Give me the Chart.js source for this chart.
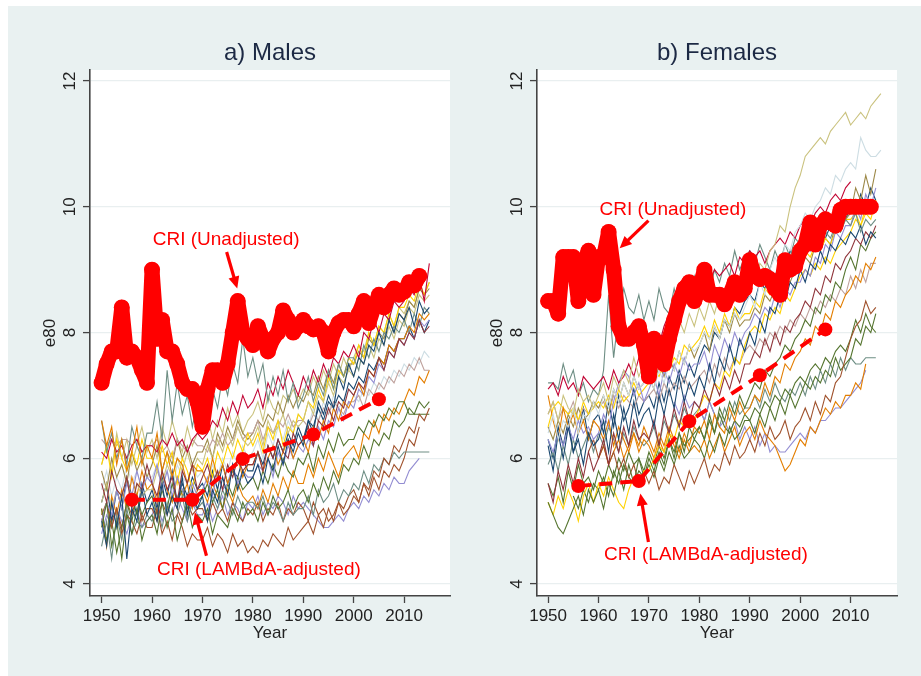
<!DOCTYPE html>
<html>
<head>
<meta charset="utf-8">
<title>e80 - Males / Females</title>
<script src="https://cdn.jsdelivr.net/npm/chart.js@4.4.1/dist/chart.umd.min.js"></script>
<style>
  html, body { margin: 0; padding: 0; background: #ffffff; }
  #page { position: absolute; left: 8px; top: 6px; width: 913px; height: 670px; background: #e9f1f1; }
  #males { position: absolute; left: 8px; top: 6px; }
  #females { position: absolute; left: 460px; top: 6px; }
</style>
</head>
<body>
<div id="page"></div>
<canvas id="males" width="452" height="670"></canvas>
<canvas id="females" width="461" height="670"></canvas>
<script>
// Axis ticks
const xTicks = [1950, 1960, 1970, 1980, 1990, 2000, 2010];
const yTicks = [4, 6, 8, 10, 12];

// CRI (Unadjusted), one value per year from 1950
const maleCri = [
  7.2,7.5,7.7,7.7,8.4,7.6,7.7,7.6,7.4,7.2,
  9.0,7.9,8.2,7.7,7.7,7.5,7.2,7.1,7.1,6.9,
  6.5,7.1,7.4,7.4,7.2,7.5,8.0,8.5,8.0,7.9,
  7.8,8.1,7.9,7.7,7.9,8.0,8.35,8.2,8.0,8.1,
  8.2,8.1,8.05,8.1,8.0,7.7,8.0,8.15,8.2,8.2,
  8.1,8.3,8.5,8.15,8.4,8.6,8.4,8.6,8.7,8.6,
  8.65,8.8,8.75,8.9
];
const femaleCri = [
  8.5,8.5,8.3,9.2,9.2,9.2,8.5,9.1,9.3,8.6,
  9.2,9.2,9.6,9.0,8.1,7.9,7.9,8.0,8.1,7.8,
  7.3,7.9,7.7,7.5,7.9,8.2,8.5,8.7,8.8,8.5,
  8.7,9.0,8.6,8.6,8.6,8.45,8.6,8.8,8.6,8.7,
  9.15,8.9,8.85,8.9,8.85,8.7,8.6,9.15,9.0,9.05,
  9.3,9.4,9.75,9.4,9.7,9.8,9.75,9.7,9.95,10.0,
  10.0,10.0,10.0,10.0,10.0
];

// CRI (LAMBdA-adjusted)
const adjYears = [1956, 1968, 1978, 1992, 2005];
const maleAdj = [5.34, 5.34, 5.99, 6.38, 6.94];
const femaleAdj = [5.56, 5.64, 6.59, 7.32, 8.05];

// ---------------------
// COUNTRY LINES, MALES (from 1950)
// ---------------------
const m01 = [5.0,4.6,5.3,4.9,5.4,4.4,5.2,5.0,5.5,5.1, 5.3,5.0,5.6,5.1,5.4,5.2,5.7,5.1,5.5,5.2, 5.4,5.0,5.5,5.3,5.7,5.4,5.9,5.5,5.8,5.6, 5.7,5.9,5.6,6.0,5.8,6.2,5.9,6.3,6.1,6.4, 6.2,6.6,6.4,6.9,6.7,7.0,6.8,7.3,7.1,7.5, 7.3,7.6,7.5,7.8,7.7,8.0,7.8,8.2,8.0,8.3, 8.2,8.4,8.1,8.5,8.3,8.4];
const m02 = [5.6,5.3,5.8,5.5,5.4,5.7,5.2,5.6,5.5,5.9, 5.6,5.4,5.8,5.5,5.7,5.3,5.8,5.6,5.9,5.5, 5.7,5.9,5.6,5.8,5.5,5.9,5.7,6.0,5.8,5.9, 5.9,6.1,5.8,6.2,6.0,6.3,6.1,6.0,6.4,6.2, 6.3,6.5,6.2,6.6,6.5,6.8,6.6,6.9,6.8,7.1, 7.0,7.2,7.1,7.4,7.3,7.6,7.4,7.7,7.6,7.9, 7.8,8.0,7.9,8.2,8.0,8.1];
const m03 = [4.9,5.3,4.6,5.0,4.4,5.1,4.8,5.2,4.7,5.0, 5.1,4.8,5.3,4.9,5.2,4.7,5.0,5.3,4.9,5.1, 5.0,5.2,4.8,5.1,5.0,4.9,5.2,5.0,5.3,5.1, 5.2,5.0,5.3,5.1,5.4,5.2,5.3,5.5,5.2,5.4, 5.5,5.3,5.6,5.4,5.7,5.5,5.8,5.6,5.9,5.8, 6.0,5.9,6.2,6.0,6.3,6.2,6.4,6.3,6.6,6.5, 6.6,6.8,6.7,6.9,6.8,6.9];
const m04 = [6.6,6.2,6.5,5.9,6.3,5.8,6.1,6.5,5.9,6.2, 6.0,6.4,5.8,6.1,5.7,6.0,5.9,5.6,5.9,5.8, 5.8,5.6,6.0,5.7,5.9,5.6,5.8,6.0,5.7,5.9, 5.9,6.1,5.8,6.0,6.2,5.9,6.1,6.3,6.0,6.2, 6.3,6.1,6.5,6.3,6.6,6.4,6.8,6.6,6.9,6.8, 7.0,7.2,7.0,7.4,7.3,7.6,7.5,7.8,7.7,7.9, 7.9,8.1,8.0,8.3,8.2,8.3];
const m05 = [6.6,6.1,6.4,6.0,6.3,5.9,6.5,6.2,6.0,6.4, 6.4,6.9,6.3,7.4,6.6,7.2,6.7,7.0,6.5,6.9, 7.0,6.6,7.1,6.8,7.3,7.0,7.5,7.2,7.9,7.3, 7.6,7.2,7.5,6.9,7.3,7.0,7.4,6.9,7.2,6.8, 7.0,7.3,6.9,7.2,7.0,7.4,7.1,7.5,7.3,7.6, 7.6,7.4,7.8,7.6,7.9,7.7,8.0,7.9,8.1,8.0, 8.2,8.0,8.3,8.1,8.4,8.3];
const m06 = [6.1,6.0,6.3,6.1,6.2,6.0,6.2,6.3,6.1,6.2, 6.2,6.1,6.3,6.2,6.4,6.2,6.3,6.1,6.3,6.4, 6.3,6.4,6.6,6.5,6.8,6.6,6.9,6.7,7.0,6.8, 6.9,7.1,6.8,7.2,7.0,7.3,7.1,7.4,7.2,7.0, 7.3,7.1,7.4,7.2,7.5,7.3,7.6,7.5,7.7,7.6, 7.8,7.6,8.0,7.9,8.2,8.0,8.3,8.2,8.5,8.4, 8.5,8.7,8.6,8.9,8.5,9.1];
const m07 = [5.0,5.3,5.1,5.5,5.2,5.6,5.4,5.8,5.5,5.7, 5.6,5.9,5.5,5.8,5.4,5.7,5.5,5.3,5.6,5.4, 5.5,5.7,5.4,5.8,5.5,5.6,5.9,5.6,5.8,5.7, 5.7,5.9,5.8,6.0,5.7,6.1,5.9,6.2,6.0,6.2, 6.1,6.3,6.2,6.5,6.3,6.6,6.5,6.8,6.6,6.9, 6.8,7.1,7.0,7.3,7.2,7.5,7.4,7.7,7.6,7.9, 7.8,8.0,7.9,8.2,8.1,8.2];
const m08 = [5.3,5.6,5.2,5.5,5.4,5.7,5.3,5.6,5.4,5.5, 5.5,5.8,5.6,5.9,5.7,6.0,5.8,6.1,5.8,6.0, 5.9,6.2,6.0,6.3,6.1,6.4,6.2,6.5,6.3,6.2, 6.3,6.5,6.2,6.6,6.4,6.5,6.7,6.4,6.6,6.5, 6.6,6.9,6.7,7.0,6.9,7.2,7.0,7.3,7.2,7.4, 7.3,7.6,7.5,7.8,7.6,7.9,7.8,8.1,7.9,8.2, 8.1,8.4,8.3,8.6,8.5,8.6];
const m09 = [5.0,5.3,4.9,5.2,4.8,5.1,5.0,4.8,5.1,4.9, 4.9,5.2,4.8,5.0,4.7,5.1,4.9,4.6,4.8,4.7, 4.7,4.9,4.6,4.8,4.7,4.5,4.8,4.6,4.7,4.5, 4.6,4.5,4.7,4.6,4.8,4.7,4.6,4.9,4.7,4.8, 4.9,5.0,4.8,5.1,4.9,5.2,5.0,5.3,5.1,5.2, 5.4,5.3,5.6,5.5,5.8,5.7,6.0,5.9,6.2,6.1, 6.3,6.5,6.4,6.7,6.6,6.8];
const m10 = [5.9,6.2,5.7,6.3,6.0,5.8,6.1,5.9,6.3,6.0, 6.0,5.8,6.2,5.9,6.1,5.6,6.0,5.8,5.5,5.9, 5.8,6.0,5.7,6.1,5.9,6.2,6.0,6.3,6.1,6.4, 6.2,6.4,6.1,6.5,6.3,6.6,6.2,6.5,6.4,6.7, 6.6,6.9,6.8,7.1,6.9,7.3,7.1,7.4,7.3,7.6, 7.5,7.8,7.6,8.0,7.8,8.1,8.0,8.3,8.1,8.4, 8.4,8.6,8.5,8.8,8.6,8.8];
const m11 = [6.3,6.2,6.3,6.2,6.3,6.3,6.2,6.3,6.1,6.2, 6.2,6.3,6.1,6.2,6.0,6.3,6.2,6.1,6.3,6.2, 6.2,6.1,6.3,6.2,6.4,6.2,6.3,6.5,6.3,6.4, 6.4,6.6,6.3,6.5,6.4,6.6,6.5,6.7,6.5,6.6, 6.6,6.5,6.7,6.6,6.8,6.7,6.9,6.8,6.7,6.9, 6.9,7.0,6.8,7.1,7.0,7.2,7.1,7.3,7.2,7.4, 7.3,7.5,7.4,7.6,7.4,7.4];
const m12 = [5.8,5.5,6.0,5.7,5.9,5.6,6.1,5.8,6.0,5.7, 5.9,6.2,5.8,6.1,5.9,6.3,6.0,6.2,5.9,6.1, 6.1,6.3,6.0,6.4,6.2,6.5,6.3,6.6,6.4,6.3, 6.4,6.6,6.5,6.7,6.6,6.9,6.7,7.0,6.8,7.0, 6.9,7.1,7.0,7.3,7.1,7.4,7.2,7.5,7.3,7.5, 7.5,7.7,7.6,7.9,7.8,8.0,7.9,8.2,8.0,8.3, 8.2,8.5,8.4,8.7,8.6,8.7];
const m13 = [4.6,5.0,4.4,5.1,4.7,5.2,4.8,5.0,4.9,5.1, 5.0,5.2,4.9,5.3,5.0,5.1,5.4,5.0,5.3,5.2, 5.3,5.1,5.4,5.2,5.5,5.3,5.1,5.4,5.2,5.3, 5.3,5.2,5.4,5.1,5.3,5.2,5.0,5.3,5.1,5.2, 5.2,5.4,5.1,5.5,5.3,5.4,5.6,5.3,5.5,5.4, 5.6,5.5,5.8,5.6,5.9,5.8,6.0,5.9,6.1,6.0, 6.1,6.1,6.1,6.1,6.1,6.1];
const m14 = [5.2,4.7,5.0,4.5,4.9,5.3,5.0,5.4,5.1,5.3, 5.4,5.1,5.5,5.2,5.6,5.3,5.5,5.2,5.4,5.3, 5.4,5.6,5.3,5.5,5.2,5.6,5.4,5.7,5.5,5.6, 5.7,5.5,5.8,5.6,5.9,5.7,6.0,5.8,5.7,6.0, 5.9,6.1,5.8,6.2,6.0,6.3,6.1,6.4,6.2,6.3, 6.3,6.5,6.4,6.6,6.5,6.7,6.6,6.8,6.7,6.9, 6.9,6.7,6.7,6.7,6.7,6.7];
const m15 = [5.2,4.6,5.4,5.1,5.5,5.2,5.7,5.4,5.8,5.5, 5.6,5.3,5.8,5.5,5.3,5.7,5.4,5.6,5.2,5.5, 5.5,5.3,5.6,5.4,5.2,5.5,5.3,5.6,5.4,5.3, 5.4,5.2,5.5,5.3,5.6,5.4,5.7,5.5,5.8,5.6, 5.6,5.9,5.7,6.0,5.8,6.1,5.9,5.7,6.0,6.1, 6.2,6.0,6.4,6.3,6.6,6.4,6.7,6.6,6.8,6.7, 6.9,7.1,7.0,7.3,7.2,7.4];
const m16 = [5.3,5.6,5.0,5.5,5.2,5.7,5.4,5.1,5.6,5.3, 5.5,5.2,5.7,5.4,5.8,5.3,5.6,5.4,5.7,5.5, 5.6,5.4,5.8,5.5,5.9,5.6,5.8,5.7,6.0,5.8, 5.8,6.1,5.9,6.2,6.0,6.3,6.1,6.4,6.2,6.5, 6.3,6.6,6.5,6.8,6.6,6.9,6.8,7.0,6.9,7.2, 7.1,7.3,7.2,7.5,7.4,7.6,7.5,7.8,7.7,7.9, 7.9,8.1,7.9,8.2,8.0,8.2];
const m17 = [5.1,5.3,5.0,5.2,4.9,5.3,5.1,5.4,5.0,5.2, 5.2,5.0,5.3,5.1,5.4,5.2,5.0,5.3,5.1,5.2, 5.2,5.0,5.3,5.1,5.2,5.0,5.3,5.1,5.0,5.2, 5.1,5.3,5.0,5.2,5.1,5.3,5.0,5.2,5.1,5.3, 5.2,5.0,5.3,5.1,5.2,5.0,5.1,5.3,5.2,5.4, 5.5,5.3,5.6,5.4,5.7,5.5,5.8,5.7,5.9,5.8, 6.0,6.3,6.2,6.5];
const m18 = [4.8,5.1,4.9,5.2,5.0,4.8,5.1,5.2,4.9,5.0, 5.1,5.3,5.0,5.2,5.1,5.4,5.2,5.0,5.3,5.1, 5.1,5.3,5.0,5.2,5.4,5.1,5.3,5.2,5.0,5.3, 5.2,5.4,5.1,5.3,5.2,5.4,5.3,5.1,5.4,5.2, 5.3,5.2,5.1,5.0,4.9,4.9,5.0,5.1,5.0,5.2, 5.3,5.2,5.4,5.3,5.5,5.4,5.6,5.5,5.7,5.6, 5.6,5.8,5.9,6.0];
const m19 = [5.5,5.8,5.4,5.7,5.5,5.9,5.6,5.8,5.5,5.7, 5.7,5.9,5.6,5.8,5.5,5.9,5.7,5.6,5.9,5.7, 5.8,5.6,5.9,5.7,6.0,5.8,6.1,5.9,6.2,6.0, 6.1,6.3,6.0,6.4,6.2,6.5,6.3,6.6,6.4,6.7, 6.6,6.5,6.8,6.6,6.9,6.7,7.0,6.8,6.9,7.1, 7.0,6.9,7.1,7.0,7.2,7.1,7.3,7.2,7.4,7.3, 7.5,7.4,7.6,7.5,7.7,7.6];
const m20 = [5.9,6.2,5.8,6.4,6.0,6.3,5.9,6.2,6.5,6.1, 6.3,6.0,6.5,6.2,6.6,6.3,6.1,6.5,6.2,6.4, 6.4,6.7,6.3,6.6,6.4,6.8,6.5,6.7,6.4,6.6, 6.7,6.9,6.6,7.0,6.8,6.7,7.0,6.9,7.1,6.9, 7.1,7.0,7.3,7.1,7.4,7.2,7.5,7.3,7.6,7.4, 7.6,7.8,7.7,8.0,7.8,8.1,8.0,8.3,8.1,8.4, 8.3,8.5,8.4,8.7,8.6,8.8];

// ---------------------
// COUNTRY LINES, FEMALES
// ---------------------
const f01 = [6.7,6.9,6.6,7.0,6.8,6.7,7.1,6.9,7.0,6.8, 7.0,7.2,6.9,7.3,7.1,7.4,7.2,7.6,7.3,7.5, 7.8,7.6,7.9,7.7,8.1,7.9,8.2,8.0,8.3,8.1, 8.4,8.2,8.5,8.3,8.6,8.4,8.7,8.5,8.8,8.7, 8.9,8.8,9.1,9.0,9.3,9.4,9.7,9.6,10.0,10.3, 10.5,10.8,10.9,11.0,11.1,11.0,11.2,11.3,11.4,11.5, 11.3,11.4,11.5,11.4,11.6,11.7,11.8];
const f02 = [6.4,6.7,6.3,6.6,6.5,6.8,6.4,6.7,6.6,6.9, 6.7,7.0,6.8,7.1,6.9,7.2,7.0,7.3,7.1,7.2, 7.3,7.1,7.4,7.2,7.5,7.4,7.7,7.5,7.8,7.7, 7.8,8.0,7.9,8.1,7.9,8.2,8.1,8.3,8.2,8.4, 8.6,8.4,8.8,8.6,9.0,9.2,9.0,9.4,9.3,9.6, 9.7,9.9,9.8,10.0,10.1,10.3,10.2,10.5,10.4,10.6, 10.7,10.6,11.1,10.9,10.8,10.8,10.9];
const f03 = [7.1,7.2,7.0,7.3,7.1,7.2,7.0,7.3,7.2,7.1, 7.2,7.3,7.1,7.4,7.2,7.3,7.5,7.3,7.6,7.4, 7.7,7.9,7.8,8.1,8.3,8.2,8.5,8.4,8.7,8.6, 8.9,9.0,8.8,9.0,8.9,9.0,9.1,8.9,9.2,9.1, 9.3,9.2,9.3,9.1,9.3,9.4,9.5,9.4,9.6,9.5, 9.7,9.8,9.7,9.9,10.0,9.9,10.1,10.2,10.1,10.3, 10.4];
const f04 = [7.2,7.2,7.1,7.5,7.2,7.4,7.0,7.2,6.9,7.1, 7.0,7.4,8.6,7.6,8.3,8.7,8.4,8.3,8.6,8.2, 8.5,8.2,8.7,8.4,8.3,8.7,8.4,8.8,8.5,8.9, 8.7,8.9,8.6,9.0,8.8,9.1,8.9,9.3,9.0,9.2, 9.3,9.1,9.4,9.2,9.0,9.3,9.1,9.4,9.2,9.5, 9.4,9.6,9.3,9.5,9.4,9.6,9.5,9.7,9.6,9.8, 9.7,9.9,9.6,9.8,9.7,9.8];
const f05 = [6.2,5.8,6.4,6.0,6.5,6.1,6.3,5.9,6.4,6.2, 6.3,6.6,6.1,6.7,6.3,6.8,6.4,6.9,6.5,6.7, 6.8,6.5,7.0,6.7,7.1,6.8,7.3,6.9,7.2,7.0, 7.3,7.1,7.5,7.2,7.6,7.4,7.8,7.5,7.9,7.7, 8.0,7.8,8.2,8.0,8.4,8.3,8.6,8.5,8.8,8.7, 9.0,8.8,9.1,9.0,9.3,9.1,9.4,9.3,9.5,9.4, 9.6,9.5,9.7,9.4,9.6,9.5];
const f06 = [5.6,5.3,5.8,5.5,5.9,5.6,6.0,5.7,6.1,5.8, 6.0,6.3,5.9,6.4,6.1,6.5,6.2,6.6,6.3,6.4, 6.3,6.6,6.2,6.7,6.4,6.8,6.5,6.9,6.6,6.9, 6.8,7.1,6.9,7.2,7.0,7.3,7.1,7.4,7.2,7.5, 7.5,7.7,7.6,7.9,7.7,8.0,7.8,8.1,8.0,8.2, 8.3,8.5,8.4,8.7,8.6,8.9,8.8,9.1,9.0,9.2, 9.3,9.5,9.4,9.6,9.5,9.7];
const f07 = [5.3,5.1,4.9,4.8,5.0,5.2,5.4,5.1,5.5,5.3, 5.5,5.2,5.6,5.4,5.8,5.5,5.9,5.6,6.0,5.7, 6.0,5.8,6.1,5.9,6.3,6.0,6.4,6.1,6.5,6.3, 6.5,6.3,6.7,6.4,6.8,6.6,6.9,6.7,7.0,6.8, 7.0,7.2,7.1,7.4,7.3,7.5,7.6,7.8,7.7,7.9, 8.0,8.2,8.1,8.4,8.3,8.6,8.5,8.8,8.7,9.0, 9.2,9.0,9.4,9.3,9.5,9.6];
const f08 = [7.0,6.6,6.3,6.8,6.5,6.7,6.4,6.6,6.3,6.6, 6.5,6.3,6.6,6.2,6.5,6.3,6.1,6.4,6.2,6.5, 6.3,6.1,6.4,6.2,6.5,6.3,6.1,6.4,6.2,6.5, 6.4,6.6,6.3,6.7,6.5,6.4,6.8,6.6,6.9,6.7, 6.8,7.0,6.9,7.2,7.0,7.3,7.2,7.5,7.4,7.6, 7.7,7.9,7.8,8.1,8.0,8.3,8.2,8.5,8.4,8.6, 8.7,8.9,8.8,9.1,9.0,9.2];
const f09 = [6.3,6.1,6.4,6.2,6.5,6.3,6.6,6.4,6.5,6.3, 6.4,6.7,6.5,6.9,7.2,7.4,7.3,7.0,7.2,6.9, 7.1,7.3,7.0,7.4,7.2,7.5,7.3,7.6,7.4,7.5, 7.5,7.7,7.4,7.8,7.6,7.9,7.7,8.0,7.8,8.0, 8.1,8.3,8.2,8.4,8.3,8.6,8.4,8.7,8.6,8.8, 8.8,9.0,8.9,9.2,9.1,9.4,9.3,9.6,9.5,9.7, 9.7,10.0,9.8,10.2,10.0,10.3];
const f10 = [5.3,5.1,5.4,5.2,5.5,5.3,5.0,5.4,5.6,5.3, 5.6,5.4,5.7,5.5,5.3,5.2,5.5,5.7,5.6,5.8, 5.8,6.0,6.2,6.1,6.4,6.3,6.6,6.5,6.7,6.6, 6.8,7.0,6.9,7.2,7.1,7.4,7.3,7.6,7.5,7.8, 8.0,8.1,8.0,8.3,8.2,8.4,8.3,8.6,8.5,8.7, 8.9,9.0,8.9,9.1,9.0,9.2,9.1,9.3,9.4,9.5, 9.6,9.8,9.7,9.9,9.8,10.1];
const f11 = [6.5,6.8,6.9,6.8,6.7,6.8,6.6,6.9,6.7,6.8, 6.9,6.8,7.0,6.8,7.1,6.9,7.0,7.2,7.0,7.1, 7.2,7.4,7.3,7.5,7.4,7.6,7.5,7.8,7.7,7.8, 7.9,8.1,7.9,8.2,8.0,8.3,8.1,8.4,8.2,8.3, 8.3,8.5,8.4,8.7,8.6,8.9,8.8,9.0,8.9,9.1, 9.1,9.3,9.2,9.4,9.3,9.5,9.4,9.6,9.7,9.8, 9.8,9.9,9.7,10.0,9.9,10.1];
const f12 = [6.5,6.3,6.6,6.4,6.7,6.5,6.8,6.6,6.7,6.9, 6.8,7.0,6.7,7.1,6.9,7.2,7.0,7.3,7.1,7.2, 7.3,7.1,7.5,7.3,7.6,7.4,7.7,7.5,7.8,7.6, 7.8,8.0,7.7,8.1,7.9,8.2,8.0,8.3,8.1,8.2, 8.2,8.4,8.3,8.6,8.5,8.7,8.6,8.9,8.8,9.0, 9.0,9.2,9.1,9.4,9.3,9.5,9.4,9.7,9.6,9.8, 9.9,10.3,10.1,10.5,10.2,10.6];
const f13 = [6.1,6.3, 6.0,6.2,5.9,6.1,5.8,6.0,5.7,5.9,5.6,5.8, 5.6,5.8,5.5,5.7,5.6,5.9,5.7,5.5,5.8,5.6, 5.8,6.0,5.7,5.9,5.8,6.1,5.9,6.2,6.0,6.1, 6.3,6.1,6.4,6.2,6.5,6.3,6.4,6.6,6.3,6.5, 6.6,6.8,6.6,6.9,6.7,7.0,6.9,7.2,7.3,7.6, 7.9,8.1,8.2,8.5,8.3,8.4];
const f14 = [5.4,5.2,5.5,5.3,5.6, 5.5,5.7,5.4,5.8,5.6,5.9,5.7,5.6,5.8,5.7, 5.9,5.7,6.0,5.8,6.1,5.9,6.2,6.0,6.1,6.3, 6.2,6.0,6.3,6.1,6.4,6.2,6.5,6.3,6.4,6.6, 6.6,6.4,6.7,6.5,6.8,6.6,6.9,6.7,7.0,6.8, 7.0,7.2,7.1,7.3,7.2,7.4,7.3,7.6,7.4,7.5, 7.6,7.9,7.8,8.1,8.0,8.3];
const f15 = [5.6,5.4,5.7,5.3,5.8,5.5,5.9,5.6,5.7,5.5, 5.8,5.6,5.9,5.7,6.0,5.8,6.1,5.9,6.0,5.8, 6.1,5.9,6.2,6.0,6.3,6.1,6.4,6.2,6.3,6.4, 6.5,6.3,6.6,6.4,6.7,6.5,6.4,6.6,6.5,6.7, 6.6,6.8,6.7,6.9,6.8,7.0,6.9,7.1,7.0,7.2, 7.3,7.2,7.4,7.5,7.4,7.6,7.5,7.7,7.8,7.7, 7.9,8.2,8.0,8.3,8.1,8.0];
const f16 = [6.0,6.2,5.9,6.1,6.3,6.0,6.2,6.4,6.1,6.3, 6.2,6.0,6.3,6.1,6.4,6.2,6.0,6.3,6.1,6.2, 6.1,6.3,6.0,6.2,6.4,6.1,6.3,6.5,6.2,6.4, 6.5,6.3,6.6,6.4,6.3,6.2,6.0,5.8,5.9,6.1, 6.3,6.2,6.5,6.4,6.6,6.8,6.7,6.9,6.8,7.0, 7.0,7.2,7.1,7.5];
const f17 = [6.9,6.7,7.0,6.8,6.9, 6.8,6.6,6.9,6.7,6.5,6.6,6.4,6.6,6.3,6.5, 6.3,6.5,6.2,6.4,6.1,6.2,6.1,6.1,6.2,6.3, 6.4,6.3,6.5,6.4,6.6,6.6,6.7,6.8,6.8,6.9, 7.0,7.1,7.2,7.4];
const f18 = [5.9,6.1,5.8,6.2,5.9,6.3,6.0,6.2,6.4,6.1, 6.4,6.2,6.5,6.3,6.1,6.4,6.2,6.5,6.3,6.2, 6.3,6.5,6.2,6.6,6.4,6.7,6.5,6.8,6.6,6.7, 6.8,6.6,6.9,6.7,6.5,6.8,6.6,6.9,6.7,6.8, 6.8,7.0,6.8,7.1,6.9,7.2,7.0,6.9,7.1,7.0, 7.2,7.0,7.3,7.1,7.4,7.2,7.5,7.3,7.6,7.4, 7.6,7.5,7.5,7.6,7.6,7.6];
const f19 = [6.7,6.9,6.6,6.8,6.7,6.9,6.6,6.8,6.7,6.9, 6.8,6.9,6.7,7.0,6.8,7.0,6.9,6.8,7.0,6.9, 7.0,7.1,6.9,7.2,7.0,7.2,7.1,7.3,7.1,7.2, 7.3,7.4,7.2,7.5,7.3,7.6,7.4,7.6,7.5,7.7, 7.8,7.7,7.9,7.8,8.0,7.9,8.1,8.0,8.2,8.1, 8.3,8.2,8.4,8.3,8.5,8.4,8.6,8.5,8.7,8.6, 8.9,8.7,9.0,8.8,9.1,9.1];
const f20 = [6.3,6.0,6.5,6.2,6.6,6.1,6.4,6.8,6.3,6.6, 6.7,6.4,6.9,6.5,7.0,6.6,6.8,7.1,6.7,6.9, 7.0,6.8,7.2,6.9,7.3,7.1,7.4,7.2,7.5,7.3, 7.6,7.8,7.7,8.0,7.9,8.2,8.1,8.4,8.3,8.5, 8.6,8.5,8.8,8.7,9.0,8.9,9.1,9.0,9.3,9.2, 9.4,9.3,9.5,9.4,9.6,9.5,9.7,9.6,9.9,9.8, 10.0,9.9,10.2,10.0,10.3,10.1];

// Stata s2color palette
const C = {
  navy: '#1a476f', maroon: '#90353b', forest: '#55752f', orange: '#e37e00',
  teal: '#6e8e84', cranberry: '#c10534', lavender: '#938dd2', khaki: '#cac27e',
  sienna: '#a0522d', gold: '#ffd200', erose: '#bfa19c', brown: '#9c8847', gray: '#cddde3'
};

const maleLines = [
  [1950, C.navy, m01], [1950, C.maroon, m02], [1950, C.forest, m03], [1950, C.orange, m04],
  [1950, C.teal, m05], [1950, C.cranberry, m06], [1950, C.lavender, m07], [1950, C.khaki, m08],
  [1950, C.sienna, m09], [1950, C.gold, m10], [1950, C.erose, m11], [1950, C.brown, m12],
  [1950, C.teal, m13], [1950, C.forest, m14], [1950, C.orange, m15], [1950, C.navy, m16],
  [1950, C.sienna, m17], [1950, C.lavender, m18], [1950, C.gray, m19], [1950, C.khaki, m20]
];
const femaleLines = [
  [1950, C.khaki, f01], [1950, C.gray, f02], [1950, C.cranberry, f03], [1950, C.teal, f04],
  [1950, C.navy, f05], [1950, C.maroon, f06], [1950, C.forest, f07], [1950, C.orange, f08],
  [1950, C.lavender, f09], [1950, C.gold, f10], [1950, C.gold, f11], [1950, C.brown, f12],
  [1958, C.sienna, f13], [1955, C.forest, f14], [1950, C.forest, f15], [1960, C.orange, f16],
  [1975, C.lavender, f17], [1950, C.teal, f18], [1950, C.erose, f19], [1950, C.navy, f20]
];

// Labels with arrows (value coordinates)
const maleNotes = [
  { text: 'CRI (Unadjusted)', at: [1974.7, 9.47], from: [1974.8, 9.28], to: [1976.9, 8.70] },
  { text: 'CRI (LAMBdA-adjusted)', at: [1981.2, 4.22], from: [1970.8, 4.45], to: [1968.5, 5.14] }
];
const femaleNotes = [
  { text: 'CRI (Unadjusted)', at: [1974.75, 9.96], from: [1969.9, 9.78], to: [1964.2, 9.34] },
  { text: 'CRI (LAMBdA-adjusted)', at: [1981.3, 4.46], from: [1969.9, 4.67], to: [1968.3, 5.44] }
];

const FONT = '"Liberation Sans", Arial, sans-serif';
Chart.defaults.font.family = FONT;

const toPoints = (start, vals) => vals.map((v, i) => ({ x: start + i, y: v }));

// Plot background, titles, rotated y labels and annotations
function decor(title, notes) {
  return {
    id: 'decor',
    beforeDraw(chart) {
      const { ctx, chartArea: a } = chart;
      ctx.save();
      ctx.fillStyle = '#ffffff';
      ctx.fillRect(a.left, a.top, a.right - a.left, a.bottom - a.top);
      ctx.restore();
    },
    afterDatasetsDraw(chart) {
      const { ctx, scales: { x, y } } = chart;
      ctx.save();
      ctx.fillStyle = '#ff0000';
      ctx.strokeStyle = '#ff0000';
      ctx.font = '19px ' + FONT;
      ctx.textAlign = 'center';
      ctx.textBaseline = 'middle';
      notes.forEach(n => {
        ctx.fillText(n.text, x.getPixelForValue(n.at[0]), y.getPixelForValue(n.at[1]));
        const x0 = x.getPixelForValue(n.from[0]), y0 = y.getPixelForValue(n.from[1]);
        const x1 = x.getPixelForValue(n.to[0]), y1 = y.getPixelForValue(n.to[1]);
        const ang = Math.atan2(y1 - y0, x1 - x0);
        const head = 12, half = 5.5;
        const cx = Math.cos(ang), sy = Math.sin(ang);
        ctx.lineWidth = 3.2;
        ctx.beginPath();
        ctx.moveTo(x0, y0);
        ctx.lineTo(x1 - cx * head * 0.8, y1 - sy * head * 0.8);
        ctx.stroke();
        ctx.beginPath();
        ctx.moveTo(x1, y1);
        ctx.lineTo(x1 - cx * head + sy * half, y1 - sy * head - cx * half);
        ctx.lineTo(x1 - cx * head - sy * half, y1 - sy * head + cx * half);
        ctx.closePath();
        ctx.fill();
      });
      ctx.restore();
    },
    afterDraw(chart) {
      const { ctx, chartArea: a, scales: { y } } = chart;
      ctx.save();
      ctx.fillStyle = '#1c2944';
      ctx.font = '24px ' + FONT;
      ctx.textAlign = 'center';
      ctx.textBaseline = 'middle';
      ctx.fillText(title, (a.left + a.right) / 2, 47);

      ctx.fillStyle = '#222222';
      ctx.font = '17px ' + FONT;
      yTicks.forEach(v => {
        ctx.save();
        ctx.translate(a.left - 20, y.getPixelForValue(v));
        ctx.rotate(-Math.PI / 2);
        ctx.fillText(String(v), 0, 0);
        ctx.restore();
      });
      ctx.translate(a.left - 40, (a.top + a.bottom) / 2);
      ctx.rotate(-Math.PI / 2);
      ctx.fillText('e80', 0, 0);
      ctx.restore();
    }
  };
}

function makePanel(id, opt) {
  const datasets = [
    {
      data: opt.adj.map((v, i) => ({ x: adjYears[i], y: v })),
      borderColor: '#ff0000', backgroundColor: '#ff0000',
      borderWidth: 4, borderDash: [13, 8],
      pointRadius: 7, pointBorderWidth: 0, order: 0
    },
    {
      data: toPoints(1950, opt.cri),
      borderColor: '#ff0000', backgroundColor: '#ff0000',
      borderWidth: 15, borderJoinStyle: 'round', borderCapStyle: 'round',
      pointRadius: 8, pointBorderWidth: 0, order: 1
    }
  ];
  opt.lines.forEach(([start, color, vals]) => {
    datasets.push({
      data: toPoints(start, vals),
      borderColor: color, borderWidth: 1.1, pointRadius: 0, order: 2
    });
  });

  return new Chart(document.getElementById(id), {
    type: 'line',
    data: { datasets },
    options: {
      responsive: false,
      animation: false,
      events: [],
      layout: { padding: { top: 64, right: opt.rightPad, bottom: 0, left: 0 } },
      plugins: { legend: { display: false }, tooltip: { enabled: false } },
      elements: { line: { tension: 0 } },
      scales: {
        x: {
          type: 'linear', min: opt.xMin, max: opt.xMax,
          afterBuildTicks: s => { s.ticks = xTicks.map(v => ({ value: v })); },
          afterFit: s => { s.height = 80; },
          ticks: { color: '#222222', font: { size: 17 }, padding: 3, maxRotation: 0, callback: v => String(v) },
          grid: { drawOnChartArea: false, tickLength: 7, tickColor: '#444444', tickWidth: 1.3 },
          border: { color: '#444444', width: 1.6 },
          title: { display: true, text: 'Year', color: '#222222', font: { size: 17 }, padding: { top: 0, bottom: 32 } }
        },
        y: {
          type: 'linear', min: 3.81, max: 12.175,
          afterBuildTicks: s => { s.ticks = yTicks.map(v => ({ value: v })); },
          afterFit: s => { s.width = opt.yWidth; },
          ticks: { display: false },
          grid: { color: '#e9eff0', lineWidth: 1.2, tickLength: 7, tickColor: '#444444', tickWidth: 1.3 },
          border: { color: '#444444', width: 1.6 }
        }
      }
    },
    plugins: [decor(opt.title, opt.notes)]
  });
}

makePanel('males', {
  title: 'a) Males', cri: maleCri, adj: maleAdj, lines: maleLines, notes: maleNotes,
  xMin: 1947.7, xMax: 2019.1, yWidth: 82, rightPad: 10
});
makePanel('females', {
  title: 'b) Females', cri: femaleCri, adj: femaleAdj, lines: femaleLines, notes: femaleNotes,
  xMin: 1947.8, xMax: 2019.2, yWidth: 77, rightPad: 24
});
</script>
</body>
</html>
